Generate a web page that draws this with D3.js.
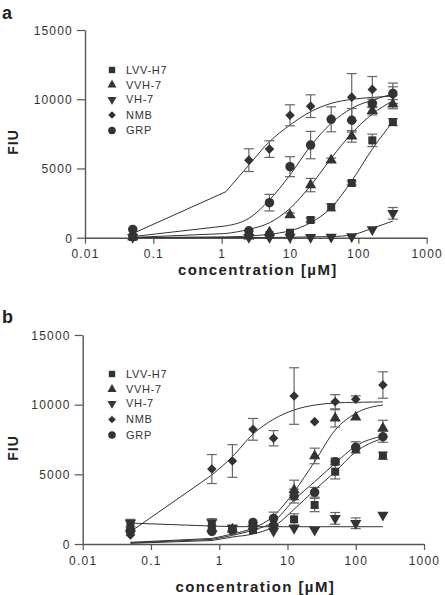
<!DOCTYPE html>
<html><head><meta charset="utf-8">
<script src="https://cdn.jsdelivr.net/npm/d3@7"></script>
<style>
html,body{margin:0;padding:0;background:#fff;}
svg{display:block;}
text{font-family:"Liberation Sans",Arial,Helvetica,sans-serif;}
</style></head>
<body>
<script>
// ---------- DATA ----------
const seriesNames = ["LVV-H7", "VVH-7", "VH-7", "NMB", "GRP"];
const yTicks = [0, 5000, 10000, 15000];
const xTicks = [0.01, 0.1, 1, 10, 100, 1000];
const xTickLabels = ["0.01", "0.1", "1", "10", "100", "1000"];

// Panel a
const concA = [0.05, 2.5, 5, 10, 20, 40, 80, 160, 320];
const aLVV = [50, 200, 200, 360, 1280, 2200, 3950, 7030, 8350];
const aLVVerr = [null, null, null, null, 150, 250, 150, 450, 250];
const aVVH = [50, 100, 400, 1640, 3800, 5600, 7320, 9170, 9640];
const aVVHerr = [null, null, null, 150, 480, 150, 420, 300, 330];
const aVH = [30, 30, 30, 50, 40, 50, 80, 600, 1760];
const aVHerr = [null, null, null, null, null, null, null, null, 420];
const aNMB = [80, 5600, 6400, 8840, 9500, null, 10150, 10710, 10300];
const aNMBerr = [null, 820, 600, 760, 820, null, 1700, 930, 600];
const aGRP = [600, 500, 2530, 5130, 6690, 8550, 8480, 9700, 10420];
const aGRPerr = [null, null, 600, 720, 990, 900, 850, 300, 750];
// fitted curves of panel a
const fitConcA = [0.05, 1.15, 2.5, 5, 10, 20, 40, 80, 160, 320];
const aFitLVV = [5, 60, 120, 250, 500, 1080, 2170, 4100, 6400, 8380];
const aFitVVH = [20, 300, 600, 1080, 2120, 3760, 5730, 7540, 8930, 9890];
const aFitVH = [0, 5, 10, 20, 30, 60, 80, 200, 680, 1200];
const aFitNMB = [300, 3320, 5250, 6930, 8140, 9100, 9700, 9990, 10130, 10230];
const aFitGRP = [80, 850, 1400, 2720, 4530, 6620, 8260, 9340, 9940, 10375];

// Panel b
const concB = [0.05, 0.78, 1.56, 3.125, 6.25, 12.5, 25, 50, 100, 250];
const bLVV = [1300, 1250, 1100, 1000, 1240, 1770, 2800, 5190, 6800, 6340];
const bLVVerr = [null, null, null, null, null, 400, 480, 520, null, 250];
const bVVH = [1150, 1100, 1050, 1250, 1490, 3880, 6320, 9020, 9090, 8300];
const bVVHerr = [null, null, null, null, null, 700, 560, 620, null, 580];
const bVH = [1500, 1550, 1150, 1150, 930, 1130, 1000, 1840, 1490, 2080];
const bVHerr = [270, 270, null, null, null, null, null, 420, 380, null];
const bNMB = [650, 5380, 5960, 8230, 7590, 10620, 8780, 10210, 10390, 11410];
const bNMBerr = [null, 1040, 1170, 780, 550, 2030, null, 510, 240, 950];
const bGRP = [900, 900, 1000, 1550, 1840, 3440, 3710, 5910, 6940, 7700];
const bGRPerr = [null, null, null, null, 450, 500, 350, 250, 400, 400];
// fitted curves of panel b
const fitConcB = [0.05, 0.78, 1.56, 3.125, 6.25, 12.5, 25, 50, 100, 250];
const bFitLVV = [50, 250, 500, 720, 1240, 2490, 3880, 5190, 6620, 7590];
const bFitVVH = [120, 400, 720, 1130, 2010, 3750, 5910, 8180, 9380, 9980];
const bFitNMB = [880, 4950, 6270, 7890, 8950, 9620, 9970, 10120, 10170, 10200];
const bFitGRP = [80, 330, 620, 1000, 1600, 3160, 4470, 5790, 7030, 7750];
const fitConcBVH = [0.05, 0.78, 1.56, 3.125, 250];
const bFitVH = [1500, 1290, 1250, 1240, 1240];

// ---------- DRAW ----------
const W = 445, H = 595;
const svg = d3.select("body").append("svg").attr("width", W).attr("height", H);

const markColor = "#333";
const errColor = "#666";
const axisColor = "#555";

function symbolPath(name, scale) {
  scale = scale || 1;
  switch (name) {
    case "LVV-H7": return {d: d3.symbol(d3.symbolSquare, 64 * scale * scale)(), rot: 0};
    case "VVH-7": return {d: d3.symbol(d3.symbolTriangle, 55 * scale * scale)(), rot: 0};
    case "VH-7": return {d: d3.symbol(d3.symbolTriangle, 55 * scale * scale)(), rot: 180};
    case "NMB": return {d: d3.symbol(d3.symbolSquare, 46 * scale * scale)(), rot: 45};
    case "GRP": return {d: d3.symbol(d3.symbolCircle, 70 * scale * scale)(), rot: 0};
  }
}

function drawPanel(cfg) {
  const g = svg.append("g");
  const x = d3.scaleLog().domain([0.01, 1000]).range(cfg.xRange);
  const y = d3.scaleLinear().domain([0, 15000]).range(cfg.yRange);

  // axes
  const xAxis = d3.axisBottom(x).tickValues(xTicks)
    .tickFormat((d, i) => xTickLabels[i]).tickSize(6).tickSizeOuter(0).tickPadding(6);
  const yAxis = d3.axisLeft(y).tickValues(yTicks)
    .tickFormat(d => String(d)).tickSize(8).tickSizeOuter(0).tickPadding(4);

  const gx = g.append("g").attr("transform", `translate(0,${cfg.yRange[0]})`).call(xAxis);
  const gy = g.append("g").attr("transform", `translate(${cfg.xRange[0]},0)`).call(yAxis);
  [gx, gy].forEach(a => {
    a.select(".domain").attr("stroke", axisColor).attr("stroke-width", 1.4);
    a.selectAll(".tick line").attr("stroke", axisColor).attr("stroke-width", 1.2);
    a.selectAll(".tick text").attr("fill", "#333").style("font-size", "12px")
      .style("letter-spacing", "1.2px").attr("font-family", null);
  });
  gy.selectAll(".tick text").attr("dy", "0.36em");

  // axis titles
  g.append("text").attr("x", (cfg.xRange[0] + cfg.xRange[1]) / 2 + 2).attr("y", cfg.titleY)
    .attr("text-anchor", "middle").style("font-size", "15px").style("font-weight", "bold")
    .style("letter-spacing", "1.4px").attr("fill", "#222").text("concentration [µM]");
  g.append("text").attr("transform", `translate(${cfg.fiuX},${cfg.fiuY}) rotate(-90)`)
    .attr("text-anchor", "middle").style("font-size", "14px").style("font-weight", "bold")
    .style("letter-spacing", "1px").attr("fill", "#222").text("FIU");
  g.append("text").attr("x", 2).attr("y", cfg.labelY).style("font-size", "18px")
    .style("font-weight", "bold").attr("fill", "#222").text(cfg.label);

  // fitted curves (optionally a straight first segment, as in the original plot)
  const smooth = d3.line().x(d => x(d[0])).y(d => y(d[1])).curve(d3.curveMonotoneX);
  const straight = d3.line().x(d => x(d[0])).y(d => y(d[1]));
  cfg.fits.forEach(f => {
    const pts = f.xs.map((c, i) => [c, f.ys[i]]);
    let d;
    if (cfg.linearHead) {
      d = straight(pts.slice(0, 2)) + smooth(pts.slice(1)).replace(/^M[^CLS]*/, "");
      // reconnect: start smooth portion from the kink point
      d = straight(pts.slice(0, 2)) + " " + smooth(pts.slice(1)).replace(/^M/, "L");
    } else {
      d = smooth(pts);
    }
    g.append("path").attr("d", d).attr("fill", "none")
      .attr("stroke", "#333").attr("stroke-width", 1);
  });

  // error bars
  cfg.series.forEach(s => {
    s.vals.forEach((v, i) => {
      const e = s.errs[i];
      if (v == null || e == null) return;
      const cx = x(s.conc[i]);
      const y1 = y(v + e), y2 = y(Math.max(0, v - e));
      g.append("line").attr("x1", cx).attr("x2", cx).attr("y1", y1).attr("y2", y2)
        .attr("stroke", errColor).attr("stroke-width", 1.2);
      [y1, y2].forEach(yy => g.append("line").attr("x1", cx - 5).attr("x2", cx + 5)
        .attr("y1", yy).attr("y2", yy).attr("stroke", errColor).attr("stroke-width", 1.2));
    });
  });

  // markers
  cfg.series.forEach(s => {
    const sp = symbolPath(s.name);
    s.vals.forEach((v, i) => {
      if (v == null) return;
      g.append("path").attr("d", sp.d)
        .attr("transform", `translate(${x(s.conc[i])},${y(v)}) rotate(${sp.rot})`)
        .attr("fill", markColor);
    });
  });

  // legend
  seriesNames.forEach((n, i) => {
    const yy = cfg.legendY[i];
    const sp = symbolPath(n, 0.8);
    g.append("path").attr("d", sp.d)
      .attr("transform", `translate(112,${yy}) rotate(${sp.rot})`).attr("fill", markColor);
    g.append("text").attr("x", 126).attr("y", yy).attr("dy", "0.36em")
      .style("font-size", "11px").style("letter-spacing", "0.7px").attr("fill", "#333").text(n);
  });
}

drawPanel({
  label: "a", labelY: 19, linearHead: true,
  xRange: [85, 426.7], yRange: [237.7, 30],
  titleY: 275, fiuX: 18, fiuY: 142,
  legendY: [70, 85, 99.5, 115, 130.5],
  series: [
    {name: "LVV-H7", conc: concA, vals: aLVV, errs: aLVVerr},
    {name: "VVH-7", conc: concA, vals: aVVH, errs: aVVHerr},
    {name: "VH-7", conc: concA, vals: aVH, errs: aVHerr},
    {name: "NMB", conc: concA, vals: aNMB, errs: aNMBerr},
    {name: "GRP", conc: concA, vals: aGRP, errs: aGRPerr}
  ],
  fits: [
    {xs: fitConcA, ys: aFitLVV}, {xs: fitConcA, ys: aFitVVH}, {xs: fitConcA, ys: aFitVH},
    {xs: fitConcA, ys: aFitNMB}, {xs: fitConcA, ys: aFitGRP}
  ]
});

drawPanel({
  label: "b", labelY: 323, linearHead: true,
  xRange: [82.7, 424], yRange: [544, 335],
  titleY: 592, fiuX: 18, fiuY: 448,
  legendY: [374, 389.3, 403.5, 419.5, 435],
  series: [
    {name: "LVV-H7", conc: concB, vals: bLVV, errs: bLVVerr},
    {name: "VVH-7", conc: concB, vals: bVVH, errs: bVVHerr},
    {name: "VH-7", conc: concB, vals: bVH, errs: bVHerr},
    {name: "NMB", conc: concB, vals: bNMB, errs: bNMBerr},
    {name: "GRP", conc: concB, vals: bGRP, errs: bGRPerr}
  ],
  fits: [
    {xs: fitConcB, ys: bFitLVV}, {xs: fitConcB, ys: bFitVVH}, {xs: fitConcBVH, ys: bFitVH},
    {xs: fitConcB, ys: bFitNMB}, {xs: fitConcB, ys: bFitGRP}
  ]
});
</script>
</body></html>
